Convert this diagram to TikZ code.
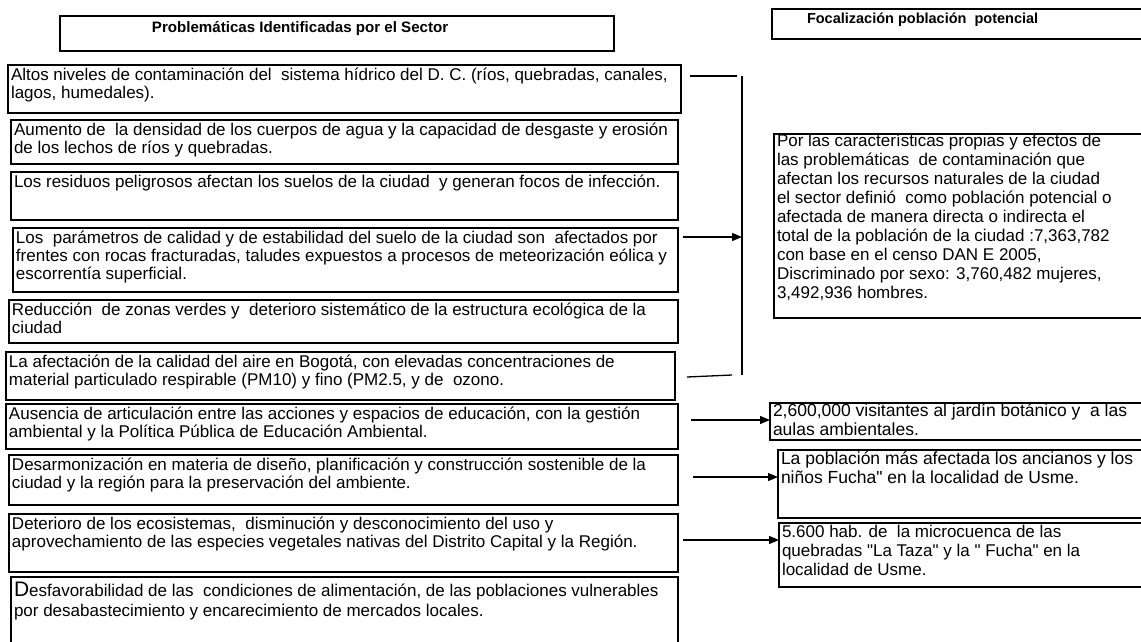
\documentclass[tikz,border=0pt]{standalone}
\usepackage{fontspec}
\setmainfont{Liberation Sans}[Ligatures=TeXOff]
\usetikzlibrary{arrows.meta,calc}
\newcommand\bodyfont{\fontsize{17}{19}\selectfont}
\newcommand\rfont{\fontsize{17.5}{19}\selectfont}
\newcommand\leftfont{\fontsize{17}{18.4}\selectfont}
\newcommand\headfont{\fontsize{14.5}{16}\selectfont\bfseries}
\tikzset{
  pbox/.style={draw, line width=1.3pt, anchor=north west, inner xsep=3pt, inner ysep=0pt, outer sep=0pt, font=\bodyfont},
  conn/.style={line width=1.3pt},
  arr/.style={line width=1.3pt, -{Triangle[length=10pt,width=8pt]}}
}
% name, left, top, right, bottom, first baseline offset, text
\newcommand\mkbox[7]{%
  \node[pbox, minimum width={#4pt-#2pt}, minimum height={#5pt-#3pt}] (#1) at (#2,#3)
  {\parbox[t][\dimexpr#5pt-#3pt\relax][t]{\dimexpr#4pt-#2pt-6pt\relax}{\raggedright\rule{0pt}{#6pt}#7}};}
\begin{document}
\begin{tikzpicture}[x=1pt,y=-1pt]
\useasboundingbox (0,0) rectangle (1141,641);
\clip (0,0) rectangle (1141,641);
% headers
\mkbox{h1}{60}{16}{614}{51}{16.5}{\fontsize{15.1}{16}\selectfont\bfseries\hspace*{89pt}Problemáticas Identificadas por el Sector}
\mkbox{h2}{772}{9}{1150}{39}{14.5}{\headfont\hspace*{32pt}Focalización población~~potencial}
% left column
\mkbox{b1}{8}{65}{681}{113}{15}{\leftfont Altos niveles de contaminación del~~sistema hídrico del D. C. (ríos, quebradas, canales,\\lagos, humedales).}
\mkbox{b2}{11}{120}{678}{164}{15}{\leftfont Aumento de~~la densidad de los cuerpos de agua y la capacidad de desgaste y erosión\\de los lechos de ríos y quebradas.}
\mkbox{b3}{11}{172}{678}{220}{15}{\leftfont Los residuos peligrosos afectan los suelos de la ciudad~~y generan focos de infección.}
\mkbox{b4}{13}{228}{678}{292}{15}{\leftfont Los~~parámetros de calidad y de estabilidad del suelo de la ciudad son~~afectados por\\frentes con rocas fracturadas, taludes expuestos a procesos de meteorización eólica y\\escorrentía superficial.}
\mkbox{b5}{9}{300}{678}{343}{15}{\leftfont Reducción~~de zonas verdes y~~deterioro sistemático de la estructura ecológica de la\\ciudad}
\mkbox{b6}{6}{352}{675}{400}{15}{\leftfont La afectación de la calidad del aire en Bogotá, con elevadas concentraciones de\\material particulado respirable (PM10) y fino (PM2.5, y de~~ozono.}
\mkbox{b7}{6}{404}{678}{449}{15}{\leftfont Ausencia de articulación entre las acciones y espacios de educación, con la gestión\\ambiental y la Política Pública de Educación Ambiental.}
\mkbox{b8}{9}{455}{678}{505}{15}{\leftfont Desarmonización en materia de diseño, planificación y construcción sostenible de la\\ciudad y la región para la preservación del ambiente.}
\mkbox{b9}{9}{514}{678}{572}{15}{\leftfont Deterioro de los ecosistemas,~~disminución y desconocimiento del uso y\\aprovechamiento de las especies vegetales nativas del Distrito Capital y la Región.}
\mkbox{b10}{11}{577}{678}{650}{19}{\leftfont\baselineskip=20pt{\fontsize{21}{20}\selectfont D}esfavorabilidad de las~~condiciones de alimentación, de las poblaciones vulnerables\\por desabastecimiento y encarecimiento de mercados locales.}
% right column
\mkbox{big}{774}{134}{1150}{318}{12.5}{Por las características propias y efectos de\\las problemáticas~~de contaminación que\\afectan los recursos naturales de la ciudad\\el sector definió~~como población potencial o\\afectada de manera directa o indirecta el\\total de la población de la ciudad :7,363,782\\con base en el censo DAN E 2005,\\Discriminado por sexo: 3,760,482 mujeres,\\3,492,936 hombres.}
\mkbox{r1}{770}{403}{1150}{440}{13.5}{\rfont 2,600,000 visitantes al jardín botánico y~~a las\\aulas ambientales.}
\mkbox{r2}{778}{450}{1150}{518}{14}{\rfont La población más afectada los ancianos y los\\niños Fucha" en la localidad de Usme.}
\mkbox{r3}{779}{523}{1150}{587}{14}{5.600 hab. de~~la microcuenca de las\\quebradas "La Taza" y la " Fucha" en la\\localidad de Usme.}
% bracket
\coordinate (vt) at (742,76);
\coordinate (vb) at (742,375);
\draw[conn] (vt) -- (vb);
\draw[conn] ([shift={(9,11)}]b1.north east) -- ([xshift=-5]vt);
\draw[conn] ([shift={(12,25)}]b6.north east) -- ([xshift=-10]vb);
\coordinate (s1) at ([shift={(5,9)}]b4.north east);
\draw[arr] (s1) -- (s1 -| vt);
% arrows to right boxes
\coordinate (s2) at ([shift={(13,16)}]b7.north east);
\draw[arr] (s2) -- (s2 -| r1.west);
\coordinate (s3) at ([shift={(15,22)}]b8.north east);
\draw[arr] (s3) -- (s3 -| r2.west);
\coordinate (s4) at ([shift={(5,26)}]b9.north east);
\draw[arr] (s4) -- (s4 -| r3.west);
\end{tikzpicture}
\end{document}
